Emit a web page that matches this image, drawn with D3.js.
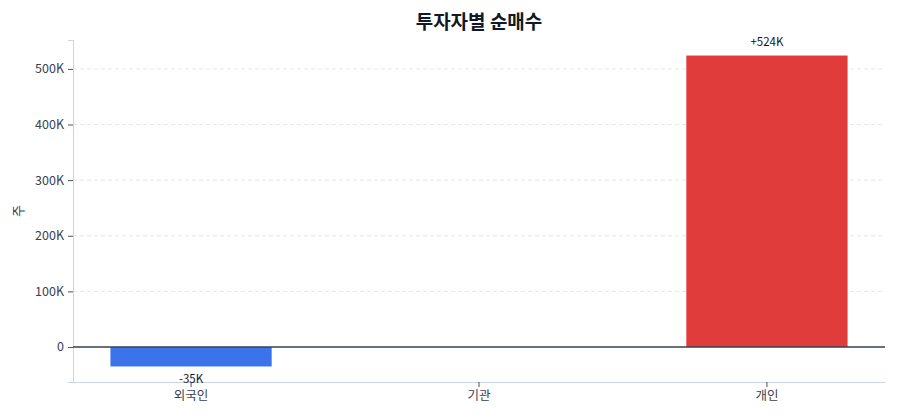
<!DOCTYPE html>
<html><head><meta charset="utf-8">
<script src="https://cdn.jsdelivr.net/npm/d3@7"></script>
<style>
body{margin:0;background:#fff;font-family:"Noto Sans CJK KR","Noto Sans",sans-serif;}
</style></head>
<body><svg id="c" width="900" height="420"></svg>
<script>
const categories = ["외국인","기관","개인"];
const values = [-35000, 0, 524000];
const yTicks = [0, 100000, 200000, 300000, 400000, 500000];
const colors = {neg:"#3b73ea", pos:"#e03c3c"};
const title = "투자자별 순매수";
const yLabel = "주";

const svg = d3.select("#c");
const m = {l:73, r:15, t:40, b:38};
const W = 900, H = 420;
const x = d3.scaleBand().domain(categories).range([m.l, W-m.r]).paddingInner(0.44).paddingOuter(0.13);
const mn = d3.min(values), mx = d3.max(values), pad = (mx-mn)*0.05;
const y = d3.scaleLinear().domain([mn-pad, mx+pad]).range([H-m.b, m.t]);
const rows = categories.map((c,i)=>({c, v:values[i]}));

// grid
svg.append("g").selectAll("line").data(yTicks.filter(d=>d!==0)).join("line")
  .attr("x1", m.l).attr("x2", W-m.r).attr("y1", d=>y(d)).attr("y2", d=>y(d))
  .attr("stroke","#e5e7eb").attr("stroke-dasharray","4,3");

const fmt = d => d===0 ? "0" : (d/1000)+"K";
const ya = svg.append("g").attr("transform",`translate(${m.l},0)`)
  .call(d3.axisLeft(y).tickValues(yTicks).tickFormat(fmt).tickSize(5).tickPadding(4));
ya.select(".domain").attr("stroke","#cbd5e1");
ya.selectAll(".tick line").attr("stroke","#4b5563");
ya.selectAll("text").attr("fill","#374151").style("font-size","12.5px").style("font-family","'Noto Sans CJK KR',sans-serif");

const xa = svg.append("g").attr("transform",`translate(0,${H-m.b})`)
  .call(d3.axisBottom(x).tickSize(5).tickPadding(4).tickSizeOuter(0));
xa.select(".domain").attr("stroke","#cbd5e1");
xa.selectAll(".tick line").attr("stroke","#4b5563");
xa.selectAll("text").attr("fill","#374151").style("font-size","12.5px").style("font-family","'Noto Sans CJK KR',sans-serif");

svg.append("g").selectAll("rect").data(rows).join("rect")
  .attr("x",d=>x(d.c)).attr("width",x.bandwidth())
  .attr("y",d=>y(Math.max(0,d.v))).attr("height",d=>Math.abs(y(d.v)-y(0)))
  .attr("fill",d=>d.v<0?colors.neg:colors.pos);

svg.append("line").attr("x1",m.l).attr("x2",W-m.r).attr("y1",y(0)).attr("y2",y(0))
  .attr("stroke","#374151").attr("stroke-width",1.5);

svg.append("g").selectAll("text").data(rows.filter(d=>d.v!==0)).join("text")
  .attr("x",d=>x(d.c)+x.bandwidth()/2)
  .attr("y",d=>d.v>0? y(d.v)-10 : y(d.v)+17)
  .attr("text-anchor","middle").attr("fill","#111827").style("font-size","11.5px")
  .text(d=>(d.v>0?"+":"-")+Math.round(Math.abs(d.v)/1000)+"K");

svg.append("text").attr("x",(m.l+W-m.r)/2).attr("y",29).attr("text-anchor","middle")
  .style("font-size","19px").style("font-weight","bold").attr("fill","#111827").text(title);

svg.append("text").attr("transform",`translate(23,${(m.t+H-m.b)/2}) rotate(-90)`)
  .attr("text-anchor","middle").style("font-size","13px").attr("fill","#374151").text(yLabel);
</script></body></html>
